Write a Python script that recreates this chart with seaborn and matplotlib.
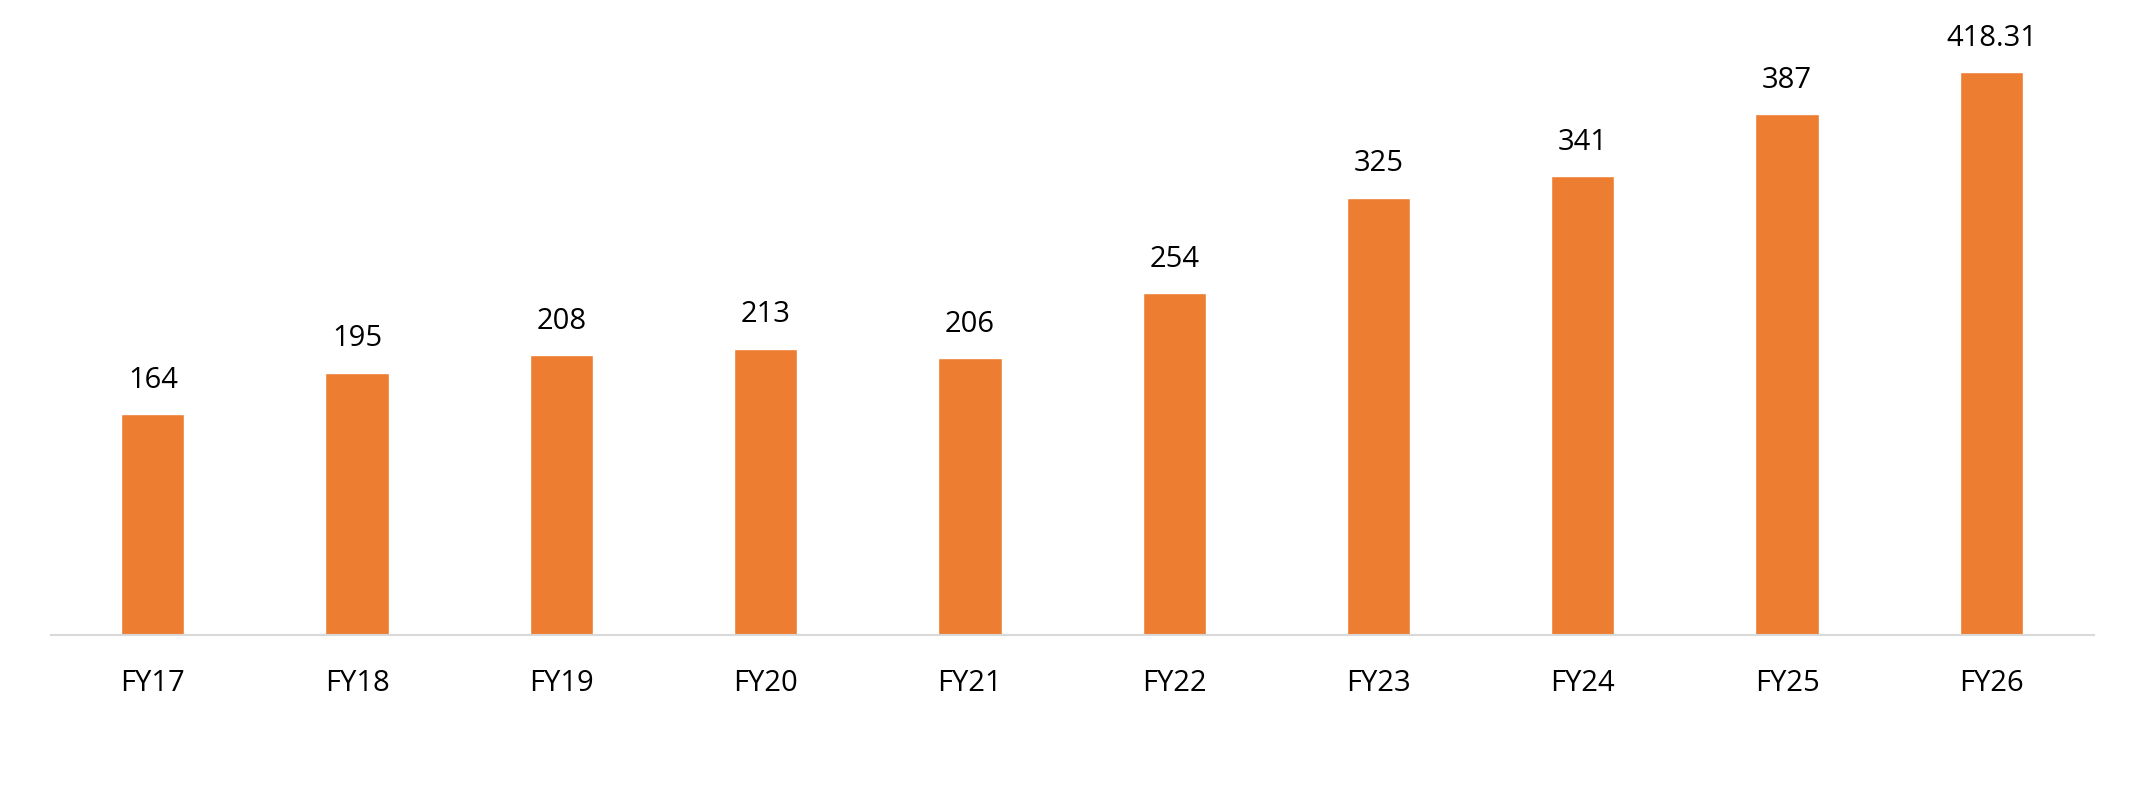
import matplotlib

matplotlib.use("Agg")
import matplotlib.pyplot as plt
import pandas as pd
import seaborn as sns

years = ["FY17", "FY18", "FY19", "FY20", "FY21", "FY22", "FY23", "FY24", "FY25", "FY26"]
values = [164, 195, 208, 213, 206, 254, 325, 341, 387, 418.31]
labels = ["164", "195", "208", "213", "206", "254", "325", "341", "387", "418.31"]

sns.set_theme(style="white")
plt.rcParams["font.family"] = ["Open Sans", "DejaVu Sans"]

df = pd.DataFrame({"year": years, "value": values})

fig = plt.figure(figsize=(21.45, 7.92), dpi=100)
ax = fig.add_axes([0.0236, 0.198, 0.9524, 0.802])
sns.barplot(data=df, x="year", y="value", color="#ED7D31", saturation=1,
            width=0.31, ax=ax)

for i, (v, lab) in enumerate(zip(values, labels)):
    ax.annotate(lab, (i, v), xytext=(0, 14), textcoords="offset points",
                ha="center", va="bottom", fontsize=21, color="#000000")

ax.set_xlim(-0.5, 9.5)
ax.set_ylim(0, 472)
ax.set_xlabel("")
ax.set_ylabel("")
ax.set_yticks([])
for side in ["top", "left", "right"]:
    ax.spines[side].set_visible(False)
ax.spines["bottom"].set_color("#D9D9D9")
ax.spines["bottom"].set_linewidth(1.5)
ax.tick_params(axis="x", length=0, pad=24, labelsize=21, labelcolor="#000000")

fig.savefig("out.png", dpi=100)
